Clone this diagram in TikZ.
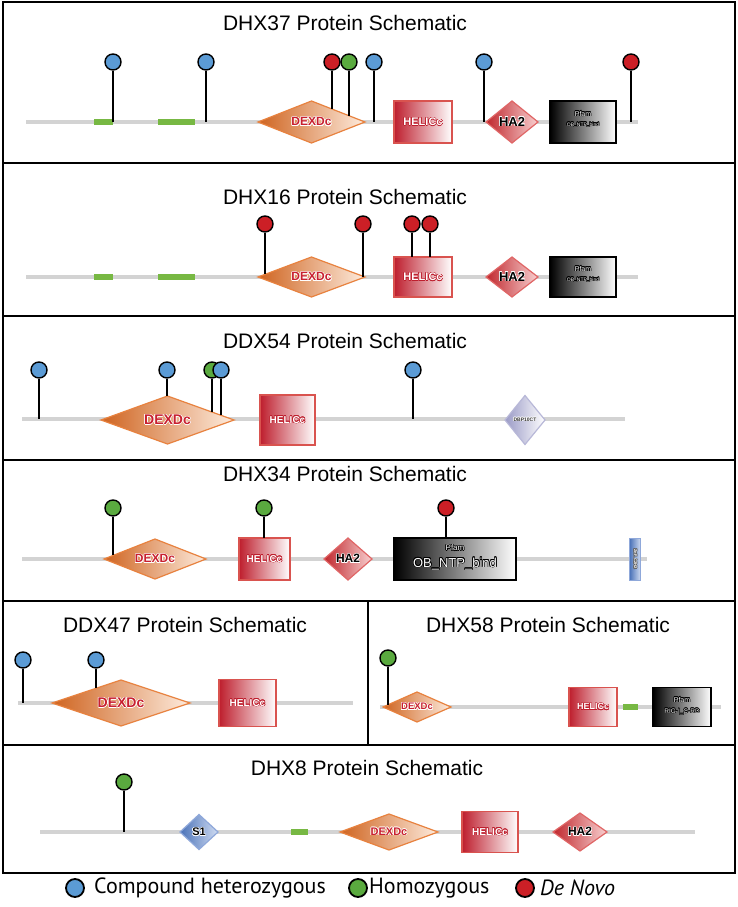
\documentclass[tikz,border=0pt]{standalone}
\usepackage{fontspec}
\setmainfont{Liberation Sans}
\newfontfamily\legfont{PT Sans}
\usepackage[copies]{contour}
\contourlength{0.5pt}
\definecolor{bbgray}{HTML}{D3D3D3}
\definecolor{barg}{HTML}{77B843}
\definecolor{lpblue}{HTML}{5B9BD5}
\definecolor{lpgreen}{HTML}{5AAA3F}
\definecolor{lpred}{HTML}{CC1F26}
\definecolor{dexdark}{HTML}{CF6420}
\definecolor{dexlight}{HTML}{FDEBDD}
\definecolor{dexborder}{HTML}{E8823F}
\definecolor{dexred}{HTML}{C8202F}
\definecolor{helred}{HTML}{BE1E2D}
\definecolor{helborder}{HTML}{D9534F}
\definecolor{hared}{HTML}{C0272D}
\definecolor{halight}{HTML}{F8D0D0}
\definecolor{haborder}{HTML}{E06666}
\definecolor{dbpdark}{HTML}{9A9AC6}
\definecolor{dbpborder}{HTML}{B8B8D8}
\definecolor{sdark}{HTML}{4A72B8}
\definecolor{slight}{HTML}{D0DCF2}
\definecolor{sborder}{HTML}{8FA8DA}
\tikzset{
  panel/.style={draw=black, line width=2pt},
  ttl/.style={font=\fontsize{21}{21}\selectfont, inner sep=0},
  bb/.style={draw=bbgray, line width=3.5pt},
  gbar/.style={draw=barg, line width=6pt},
  lp/.style={circle, draw=black, line width=1.4pt, minimum size=16pt, inner sep=0},
  stem/.style={draw=black, line width=1.8pt},
  helbox/.style={rectangle, draw=helborder, line width=1.3pt, left color=helred, right color=white, inner sep=0},
  pfambox/.style={rectangle, draw=black, line width=1.5pt, left color=black, right color=white, inner sep=0},
  dexd/.style={draw=dexborder, line width=1.2pt, left color=dexdark, right color=dexlight},
  ha2d/.style={draw=haborder, line width=1.2pt, left color=hared, right color=halight},
  dbpd/.style={draw=dbpborder, line width=1.2pt, left color=dbpdark, right color=white},
  s1d/.style={draw=sborder, line width=1.2pt, left color=sdark, right color=slight},
  lab/.style={inner sep=0},
  legtxt/.style={anchor=west, inner sep=0, font=\legfont\fontsize{22}{22}\selectfont},
}
% name, style, cx, cy, w, h
\newcommand\diam[6]{%
  \path[#2] ({#3-#5/2},#4) -- (#3,{#4-#6/2}) -- ({#3+#5/2},#4) -- (#3,{#4+#6/2}) -- cycle;
  \coordinate (#1) at (#3,#4);}
% name, cx, cy, w, h, fontsize
\newcommand\dexdc[6]{%
  \diam{#1}{dexd}{#2}{#3}{#4}{#5}
  \node[lab, text=dexred, font=\fontsize{#6}{#6}\selectfont\bfseries] (#1t) at (#1) {\contour{white}{DEXDc}};}
\newcommand\hatwo[6]{%
  \diam{#1}{ha2d}{#2}{#3}{#4}{#5}
  \node[lab, text=black, font=\fontsize{#6}{#6}\selectfont\bfseries] (#1t) at (#1) {\contour{white}{HA2}};}
\newcommand\helicc[6]{%
  \node[helbox, minimum width=#4pt, minimum height=#5pt] (#1) at (#2,#3) {};
  \node[lab, text=white, font=\fontsize{#6}{#6}\selectfont\bfseries] (#1t) at (#1) {\contour{helred}{HELICc}};}
% name, color, x, ytop, yend
\newcommand\lolli[5]{%
  \node[lp, fill=#2] (#1) at (#3,#4) {};
  \coordinate (#1e) at (#3,#5);
  \draw[stem] (#1) -- (#1e);}
\begin{document}
\begin{tikzpicture}[x=1pt,y=-1pt]
\useasboundingbox (0,0) rectangle (738,907);
\fill[white] (0,0) rectangle (738,907);
% panels
\draw[panel] (3,2) rectangle (735,163);
\draw[panel] (3,163) rectangle (735,316);
\draw[panel] (3,316) rectangle (735,460);
\draw[panel] (3,460) rectangle (735,601);
\draw[panel] (3,601) rectangle (368,745);
\draw[panel] (368,601) rectangle (735,745);
\draw[panel] (3,745) rectangle (735,873);
% titles
\node[ttl] (t1) at (345,23) {DHX37 Protein Schematic};
\node[ttl] (t2) at (345,197) {DHX16 Protein Schematic};
\node[ttl] (t3) at (345,341) {DDX54 Protein Schematic};
\node[ttl] (t4) at (345,474) {DHX34 Protein Schematic};
\node[ttl] (t5) at (185,625) {DDX47 Protein Schematic};
\node[ttl] (t6) at (548,625) {DHX58 Protein Schematic};
\node[ttl] (t7) at (367,768) {DHX8 Protein Schematic};
% ===== DHX37 =====
\coordinate (b1s) at (26,122); \coordinate (b1e) at (638,122);
\draw[bb] (b1s) -- (b1e);
\draw[gbar] (94,122) -- (113,122);
\draw[gbar] (158,122) -- (195,122);
\dexdc{d1}{311.5}{122}{107}{42}{12}
\helicc{h1}{423}{122}{58}{42}{11}
\hatwo{a1}{512}{122}{52}{42}{13}
\node[pfambox, minimum width=66pt, minimum height=42pt] (p1) at (583,122) {};
\node[lab, text=white, font=\fontsize{7}{7}\selectfont] (p1a) at (583,114) {\contour{black}{Pfam}};
\node[lab, text=white, font=\fontsize{5}{5}\selectfont] (p1b) at (583,125) {\contour{black}{OB\_NTP\_bind}};
\lolli{m11}{lpblue}{113}{62}{122}
\lolli{m12}{lpblue}{206}{62}{122}
\lolli{m13}{lpred}{332}{62}{109}
\lolli{m14}{lpgreen}{349}{62}{116}
\lolli{m15}{lpblue}{374}{62}{122}
\lolli{m16}{lpblue}{484}{62}{122}
\lolli{m17}{lpred}{631}{62}{122}
% ===== DHX16 =====
\coordinate (b2s) at (26,277); \coordinate (b2e) at (638,277);
\draw[bb] (b2s) -- (b2e);
\draw[gbar] (94,277) -- (113,277);
\draw[gbar] (158,277) -- (195,277);
\dexdc{d2}{311.5}{277}{107}{40}{12}
\helicc{h2}{423}{277}{58}{40}{11}
\hatwo{a2}{512}{277}{52}{40}{13}
\node[pfambox, minimum width=66pt, minimum height=40pt] (p2) at (583,277) {};
\node[lab, text=white, font=\fontsize{7}{7}\selectfont] (p2a) at (583,269) {\contour{black}{Pfam}};
\node[lab, text=white, font=\fontsize{5}{5}\selectfont] (p2b) at (583,280) {\contour{black}{OB\_NTP\_bind}};
\lolli{m21}{lpred}{265}{224}{274}
\lolli{m22}{lpred}{363}{224}{277}
\lolli{m23}{lpred}{412}{224}{257}
\lolli{m24}{lpred}{430}{224}{257}
% ===== DDX54 =====
\coordinate (b3s) at (22,419); \coordinate (b3e) at (625,419);
\draw[bb] (b3s) -- (b3e);
\dexdc{d3}{167.5}{420}{133}{48}{14}
\helicc{h3}{287.5}{420}{55}{50}{10}
\diam{q3}{dbpd}{525}{420}{40}{49}
\node[lab, text=black!80, font=\fontsize{5}{5}\selectfont\bfseries] (q3t) at (q3) {\contour{white}{DBP10CT}};
\lolli{m31}{lpblue}{39}{370}{419}
\lolli{m32}{lpblue}{167}{370}{396}
\lolli{m33}{lpgreen}{212}{370}{412}
\lolli{m34}{lpblue}{221}{370}{415}
\lolli{m35}{lpblue}{413}{370}{419}
% ===== DHX34 =====
\coordinate (b4s) at (22,559); \coordinate (b4e) at (647,559);
\draw[bb] (b4s) -- (b4e);
\dexdc{d4}{155}{559}{102}{40}{12}
\helicc{h4}{264.5}{559}{51}{42}{10}
\hatwo{a4}{348}{559}{48}{42}{12}
\node[pfambox, minimum width=122pt, minimum height=42pt] (p4) at (455,559) {};
\node[lab, text=white, font=\fontsize{8}{8}\selectfont] (p4a) at (455,548) {\contour{black}{Pfam}};
\node[lab, text=white, font=\fontsize{13}{13}\selectfont] (p4b) at (455,564) {\contour{black}{OB\_NTP\_bind}};
\node[rectangle, draw=sborder, line width=1pt, left color=sdark, right color=slight, minimum width=11pt, minimum height=42pt, inner sep=0] (z4) at (635,559) {};
\node[lab, rotate=-90, text=white, font=\fontsize{4}{4}\selectfont\bfseries] (z4t) at (z4) {\contour{black!60}{ZnF\_C2H2}};
\lolli{m41}{lpgreen}{113}{508}{555}
\lolli{m42}{lpgreen}{264}{508}{538}
\lolli{m43}{lpred}{446}{508}{538}
% ===== DDX47 =====
\coordinate (b5s) at (18,703); \coordinate (b5e) at (353,703);
\draw[bb] (b5s) -- (b5e);
\dexdc{d5}{121}{703}{138}{46}{14}
\helicc{h5}{247.5}{703}{57}{47}{10}
\lolli{m51}{lpblue}{23}{660}{703}
\lolli{m52}{lpblue}{96}{660}{688}
% ===== DHX58 =====
\coordinate (b6s) at (380,707); \coordinate (b6e) at (721,707);
\draw[bb] (b6s) -- (b6e);
\draw[gbar] (623,707) -- (638,707);
\dexdc{d6}{417}{707}{68}{30}{9.5}
\helicc{h6}{593}{707}{48}{39}{9}
\node[pfambox, minimum width=58pt, minimum height=39pt] (p6) at (682,707) {};
\node[lab, text=white, font=\fontsize{7}{7}\selectfont] (p6a) at (682,700) {\contour{black}{Pfam}};
\node[lab, text=white, font=\fontsize{6.5}{6.5}\selectfont] (p6b) at (682,712) {\contour{black}{RIG-I\_C-RD}};
\lolli{m61}{lpgreen}{388}{658}{705}
% ===== DHX8 =====
\coordinate (b7s) at (40,832); \coordinate (b7e) at (695,832);
\draw[bb] (b7s) -- (b7e);
\draw[gbar] (291,832) -- (308,832);
\diam{s7}{s1d}{199}{832}{38}{35}
\node[lab, text=black, font=\fontsize{11}{11}\selectfont\bfseries] (s7t) at (s7) {\contour{white}{S1}};
\dexdc{d7}{389}{832}{98}{36}{11}
\helicc{h7}{490}{832}{56}{41}{10}
\hatwo{a7}{580}{832}{54}{38}{12}
\lolli{m71}{lpgreen}{124}{782}{832}
% ===== legend =====
\node[lp, minimum size=18pt, line width=1.8pt, fill=lpblue] (lg1) at (75,888) {};
\node[legtxt] (lg1t) at (94,888) {Compound heterozygous};
\node[lp, minimum size=18pt, line width=1.8pt, fill=lpgreen] (lg2) at (358,888) {};
\node[legtxt] (lg2t) at (369,888) {Homozygous};
\node[lp, minimum size=18pt, line width=1.8pt, fill=lpred] (lg3) at (525,888) {};
\node[legtxt, font=\legfont\fontsize{22}{22}\selectfont\itshape] (lg3t) at (540,888) {De Novo};
\end{tikzpicture}
\end{document}
